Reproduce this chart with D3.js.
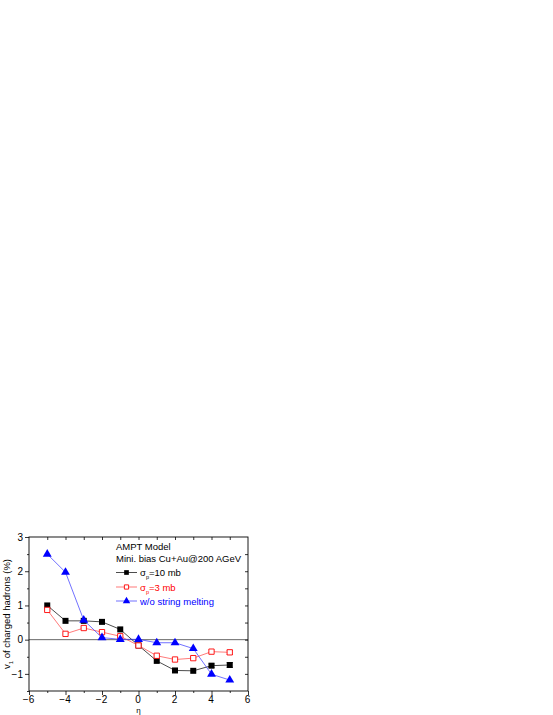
<!DOCTYPE html>
<html>
<head>
<meta charset="utf-8">
<script src="https://cdn.jsdelivr.net/npm/d3@7"></script>
<style>
  body { margin: 0; background: #fff; }
  svg { display: block; font-family: "Liberation Sans", Arial, sans-serif; }
</style>
</head>
<body>
<div id="chart"></div>
<script>
// DATA
const eta = [-5, -4, -3, -2, -1, 0, 1, 2, 3, 4, 5];
const v1_10mb = [1.0, 0.55, 0.55, 0.52, 0.3, -0.17, -0.62, -0.9, -0.91, -0.76, -0.74];
const err_10mb = [0, 0, 0, 0, 0, 0, 0, 0, 0, 0.05, 0.07];
const v1_3mb = [0.87, 0.17, 0.34, 0.22, 0.1, -0.17, -0.47, -0.58, -0.54, -0.35, -0.37];
const err_3mb = [0, 0, 0, 0, 0, 0, 0, 0, 0, 0, 0.06];
const v1_nosm = [2.5, 1.97, 0.57, 0.06, 0.01, 0.01, -0.09, -0.09, -0.26, -1.01, -1.18];
const xTicks = [-6, -4, -2, 0, 2, 4, 6];
const yTicks = [-1, 0, 1, 2, 3];

// SIZE
const width = 553, height = 715;
const plotLeft = 29, plotRight = 248, plotTop = 537, plotBottom = 691;

const svg = d3.select("#chart").append("svg")
    .attr("width", width)
    .attr("height", height);

const x = d3.scaleLinear().domain([-6, 6]).range([plotLeft, plotRight]);
const y = d3.scaleLinear().domain([-1.5, 3]).range([plotBottom, plotTop]);

// AXES
const xAxis = svg.append("g")
    .attr("transform", "translate(0," + plotBottom + ")")
    .call(d3.axisBottom(x).tickValues(xTicks).tickSize(4).tickPadding(1).tickFormat(d3.format("d")));
const xMinor = svg.append("g")
    .attr("transform", "translate(0," + plotBottom + ")")
    .call(d3.axisBottom(x).tickValues([-5, -3, -1, 1, 3, 5]).tickSize(2).tickFormat(""));
const yAxis = svg.append("g")
    .attr("transform", "translate(" + plotLeft + ",0)")
    .call(d3.axisLeft(y).tickValues(yTicks).tickSize(4).tickPadding(2).tickFormat(d3.format("d")));
const yMinor = svg.append("g")
    .attr("transform", "translate(" + plotLeft + ",0)")
    .call(d3.axisLeft(y).tickValues([-1.5, -0.5, 0.5, 1.5, 2.5]).tickSize(2).tickFormat(""));
// top and right mirror (inward ticks)
const xTop = svg.append("g")
    .attr("transform", "translate(0," + plotTop + ")")
    .call(d3.axisBottom(x).tickValues(d3.range(-5, 6)).tickSize(3).tickFormat(""));
const yRight = svg.append("g")
    .attr("transform", "translate(" + plotRight + ",0)")
    .call(d3.axisLeft(y).tickValues([-1, -0.5, 0, 0.5, 1, 1.5, 2, 2.5]).tickSize(3).tickFormat(""));

[xAxis, xMinor, yAxis, yMinor, xTop, yRight].forEach(function (g) {
    g.select(".domain").remove();
    g.selectAll("line").attr("stroke", "#000").attr("stroke-width", 0.8);
    g.selectAll("text").attr("fill", "#000").style("font-size", "10px");
});
xAxis.selectAll("text").attr("dx", "-0.1em");

// FRAME
svg.append("rect")
    .attr("x", plotLeft).attr("y", plotTop)
    .attr("width", plotRight - plotLeft).attr("height", plotBottom - plotTop)
    .attr("fill", "none").attr("stroke", "#000").attr("stroke-width", 0.9);

// ZERO LINE
svg.append("line")
    .attr("x1", plotLeft).attr("x2", plotRight)
    .attr("y1", y(0)).attr("y2", y(0))
    .attr("stroke", "#000").attr("stroke-width", 0.6);

// LABELS
const yLabel = svg.append("text")
    .attr("transform", "translate(10," + ((plotTop + plotBottom) / 2) + ") rotate(-90)")
    .attr("text-anchor", "middle")
    .style("font-size", "9.5px");
yLabel.append("tspan").text("v");
yLabel.append("tspan").attr("baseline-shift", "sub").style("font-size", "6px").text("1");
yLabel.append("tspan").text(" of charged hadrons (%)");

svg.append("text")
    .attr("x", x(0)).attr("y", 713)
    .attr("text-anchor", "middle")
    .style("font-size", "8px")
    .text("η");

// SERIES
const series = [
    { key: "10mb", values: v1_10mb, errs: err_10mb, color: "#000000", lineColor: "#000000", shape: "square", fill: true },
    { key: "3mb", values: v1_3mb, errs: err_3mb, color: "#ff0000", lineColor: "#ff4040", shape: "square", fill: false },
    { key: "nosm", values: v1_nosm, errs: null, color: "#0000ff", lineColor: "#3333ff", shape: "triangle", fill: true }
];

const line = d3.line()
    .x(function (d) { return x(d[0]); })
    .y(function (d) { return y(d[1]); });

const squareSym = d3.symbol().type(d3.symbolSquare).size(36);
const openSquareSym = d3.symbol().type(d3.symbolSquare).size(28);
const triSym = d3.symbol().type(d3.symbolTriangle).size(34);
const squareSymSm = d3.symbol().type(d3.symbolSquare).size(22);
const openSquareSymSm = d3.symbol().type(d3.symbolSquare).size(18);
const triSymSm = d3.symbol().type(d3.symbolTriangle).size(24);

series.forEach(function (s) {
    const pts = eta.map(function (e, i) { return [e, s.values[i]]; });
    svg.append("path")
        .datum(pts)
        .attr("d", line)
        .attr("fill", "none")
        .attr("stroke", s.lineColor)
        .attr("stroke-width", 0.7);

    if (s.errs) {
        eta.forEach(function (e, i) {
            if (s.errs[i] > 0) {
                svg.append("line")
                    .attr("x1", x(e)).attr("x2", x(e))
                    .attr("y1", y(s.values[i] - s.errs[i]))
                    .attr("y2", y(s.values[i] + s.errs[i]))
                    .attr("stroke", s.color).attr("stroke-width", 0.8);
                [-1, 1].forEach(function (sg) {
                    svg.append("line")
                        .attr("x1", x(e) - 3).attr("x2", x(e) + 3)
                        .attr("y1", y(s.values[i] + sg * s.errs[i]))
                        .attr("y2", y(s.values[i] + sg * s.errs[i]))
                        .attr("stroke", s.color).attr("stroke-width", 0.8);
                });
            }
        });
    }

    svg.selectAll(".pt-" + s.key)
        .data(pts)
        .enter().append("path")
        .attr("class", "pt-" + s.key)
        .attr("transform", function (d) { return "translate(" + x(d[0]) + "," + y(d[1]) + ")"; })
        .attr("d", s.shape === "triangle" ? triSym : (s.fill ? squareSym : openSquareSym))
        .attr("fill", s.fill ? s.color : "#fff")
        .attr("stroke", s.color)
        .attr("stroke-width", s.fill ? 0 : 0.9);
});

// LEGEND
const lg = svg.append("g").style("font-size", "9.5px");
lg.append("text").attr("x", 116).attr("y", 550).text("AMPT Model");
lg.append("text").attr("x", 116).attr("y", 562).text("Mini. bias Cu+Au@200 AGeV");

const legendRows = [
    { s: series[0], y: 572.5, label: "=10 mb", textColor: "#000" },
    { s: series[1], y: 587, label: "=3 mb", textColor: "#ff0000" },
    { s: series[2], y: 601, label: "w/o string melting", textColor: "#0000ff" }
];
legendRows.forEach(function (r) {
    lg.append("line")
        .attr("x1", 116).attr("x2", 137)
        .attr("y1", r.y).attr("y2", r.y)
        .attr("stroke", r.s.lineColor).attr("stroke-width", 0.7);
    lg.append("path")
        .attr("transform", "translate(126.5," + r.y + ")")
        .attr("d", r.s.shape === "triangle" ? triSymSm : (r.s.fill ? squareSymSm : openSquareSymSm))
        .attr("fill", r.s.fill ? r.s.color : "#fff")
        .attr("stroke", r.s.color)
        .attr("stroke-width", r.s.fill ? 0 : 0.9);
    const t = lg.append("text")
        .attr("x", 140).attr("y", r.y + 3.5)
        .attr("fill", r.textColor);
    if (r.s.key === "nosm") {
        t.text(r.label);
    } else {
        t.append("tspan").text("σ");
        t.append("tspan").attr("baseline-shift", "sub").style("font-size", "5.5px").text("p");
        t.append("tspan").text(r.label);
    }
});
</script>
</body>
</html>
